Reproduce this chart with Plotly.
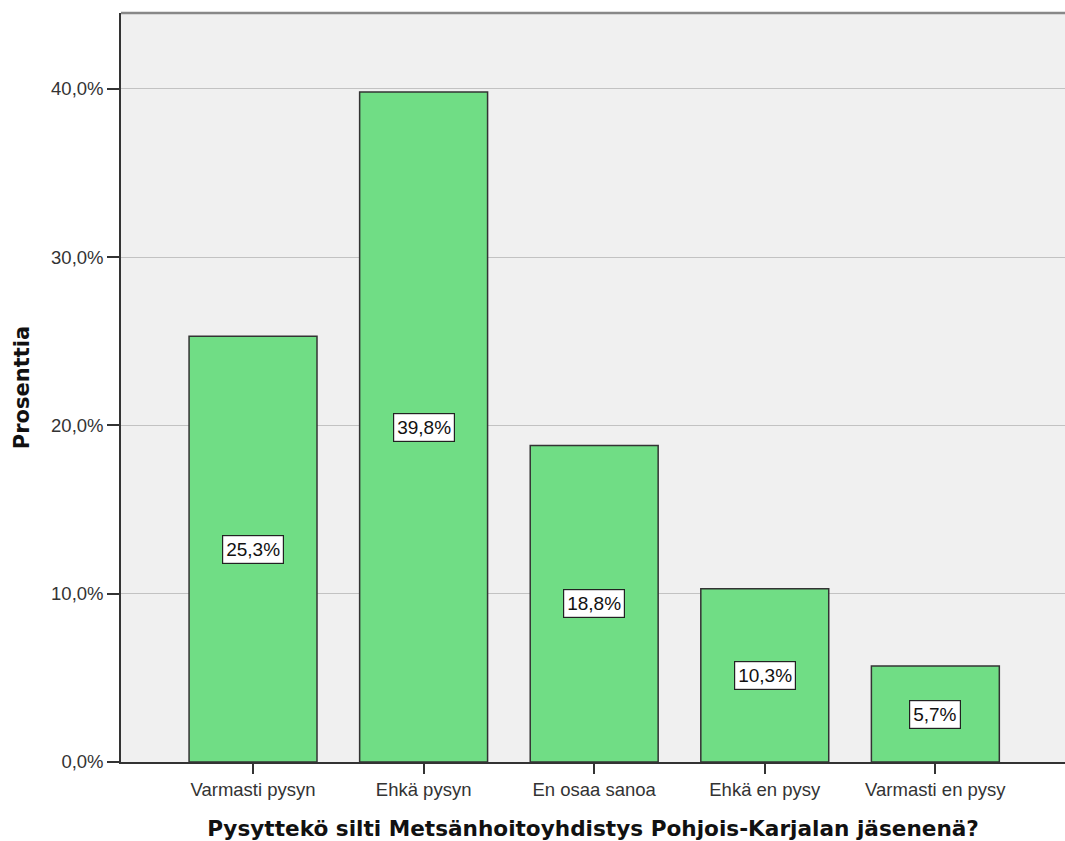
import plotly.graph_objects as go

categories = ["Varmasti pysyn", "Ehkä pysyn", "En osaa sanoa", "Ehkä en pysy", "Varmasti en pysy"]
values = [25.3, 39.8, 18.8, 10.3, 5.7]
tick_vals = [0, 10, 20, 30, 40]
tick_text = ["0,0%", "10,0%", "20,0%", "30,0%", "40,0%"]
label_text = [f"{v:.1f}%".replace(".", ",") for v in values]

SANS = "Liberation Sans, Arial, sans-serif"
BOLD = "DejaVu Sans, Verdana, sans-serif"

fig = go.Figure()
fig.add_trace(go.Bar(
    x=list(range(len(categories))),
    y=values,
    width=0.75,
    marker=dict(color="rgb(112,221,133)", line=dict(color="#333333", width=1.5)),
    hoverinfo="skip",
))

for i, (v, t) in enumerate(zip(values, label_text)):
    fig.add_annotation(
        x=i, y=v / 2, text=t, showarrow=False,
        font=dict(family=SANS, size=19, color="#111111"),
        bgcolor="white", bordercolor="#222222", borderwidth=1.2, borderpad=3,
    )

fig.update_layout(
    width=1065, height=841,
    margin=dict(l=121, r=0, t=13, b=79),
    paper_bgcolor="white",
    plot_bgcolor="#f0f0f0",
    showlegend=False,
    font=dict(family=SANS, size=18, color="#222222"),
)
fig.update_xaxes(
    range=[-0.774, 4.76],
    tickvals=list(range(len(categories))),
    ticktext=categories,
    ticks="outside", ticklen=10, tickwidth=2, tickcolor="#333333",
    showline=True, linecolor="#333333", linewidth=1.5,
    showgrid=False, zeroline=False,
    tickfont=dict(family=SANS, size=18.5, color="#333333"),
    title=dict(text="<b>Pysyttekö silti Metsänhoitoyhdistys Pohjois-Karjalan jäsenenä?</b>",
               font=dict(family=BOLD, size=21.6, color="#111111"),
               standoff=22),
)
fig.update_yaxes(
    range=[0, 44.5],
    tickvals=tick_vals, ticktext=tick_text,
    ticks="outside", ticklen=12, tickwidth=2, tickcolor="#333333",
    showline=True, linecolor="#333333", linewidth=1.5,
    showgrid=True, gridcolor="#c2c2c2", gridwidth=1.2,
    zeroline=False,
    tickfont=dict(family=SANS, size=18.5, color="#333333"),
    title=dict(text="<b>Prosenttia</b>",
               font=dict(family=BOLD, size=21, color="#111111"),
               standoff=16),
)
# top border of the plot area
fig.add_shape(type="line", xref="paper", yref="paper", x0=0, x1=1, y0=1, y1=1,
              line=dict(color="#888888", width=2.5))

fig.write_html("out.html", config={"displayModeBar": False},
               post_script="document.body.style.margin='0';")
